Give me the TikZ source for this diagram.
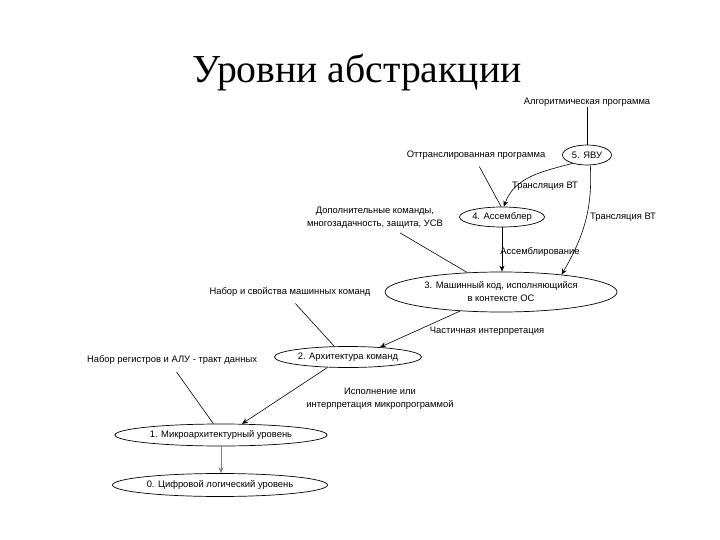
\documentclass[tikz,border=0pt]{standalone}
\usepackage{fontspec}
\setmainfont{Liberation Sans}
\newfontfamily\titlefont{Liberation Serif}
\usetikzlibrary{shapes.geometric,arrows.meta,calc}
\begin{document}
\begin{tikzpicture}[x=1pt,y=1pt,
  lvl/.style={draw,ellipse,inner sep=0pt,line width=0.7pt,font=\fontsize{9.4}{13}\selectfont,align=center},
  lbl/.style={inner sep=1pt,font=\fontsize{9.4}{13}\selectfont,align=center},
  conn/.style={line width=0.6pt},
  arr/.style={line width=0.6pt,-{Stealth[length=6pt,width=5pt]}}]
\useasboundingbox (0,0) rectangle (720,-540);
\node[anchor=base,font=\titlefont\fontsize{39.7}{42}\selectfont] (title) at (357,-83) {Уровни абстракции};
% levels
\node[lvl,minimum width=49pt,minimum height=20pt] (yavu) at (587,-155) {5. ЯВУ};
\node[lvl,minimum width=85pt,minimum height=20pt] (asm) at (502,-217) {4. Ассемблер};
\node[lvl,minimum width=232pt,minimum height=40pt] (mk) at (501,-292) {3. Машинный код, исполняющийся\\в контексте ОС};
\node[lvl,minimum width=147pt,minimum height=21pt] (arch) at (348,-357) {2. Архитектура команд};
\node[lvl,minimum width=212pt,minimum height=22pt] (micro) at (221,-435) {1. Микроархитектурный уровень};
\node[lvl,minimum width=215pt,minimum height=23pt] (dig) at (220,-485) {0. Цифровой логический уровень};
% annotations
\node[lbl] (alg) at (587,-102) {Алгоритмическая программа};
\node[lbl] (ott) at (476,-155) {Оттранслированная программа};
\node[lbl] (dop) at (375,-218) {Дополнительные команды,\\многозадачность, защита, УСВ};
\node[lbl] (nabor) at (290,-292) {Набор и свойства машинных команд};
\node[lbl] (reg) at (172,-360) {Набор регистров и АЛУ - тракт данных};
% edge labels
\node[lbl] (t1) at (545,-186) {Трансляция ВТ};
\node[lbl] (t2) at (623,-217) {Трансляция ВТ};
\node[lbl] (as) at (540,-252) {Ассемблирование};
\node[lbl] (ch) at (487,-331) {Частичная интерпретация};
\node[lbl] (isp) at (380,-399) {Исполнение или\\интерпретация микропрограммой};
% connectors
\draw[conn] (alg.south) -- (yavu.north);
\draw[arr] (yavu.210) to[out=195,in=70] (asm.80);
\draw[arr] (yavu.288) to[out=-87,in=60] (mk.16);
\draw[conn,shorten <=7pt] (ott.south) -- (asm.95);
\draw[arr] (asm.south) -- (asm.south |- mk.north);
\draw[conn] ($(dop.south)+(25,-3)$) -- (mk.150);
\draw[conn,shorten <=8pt] (nabor.south) -- (arch.142);
\draw[arr] (mk.205) -- (arch.17);
\draw[conn,shorten <=8pt] (reg.south) -- (micro.124);
\draw[arr] (arch.207) -- (micro.28);
\draw[arr,draw=gray,fill=gray,line width=0.4pt] (micro.south) -- (micro.south |- dig.north);
\end{tikzpicture}
\end{document}
